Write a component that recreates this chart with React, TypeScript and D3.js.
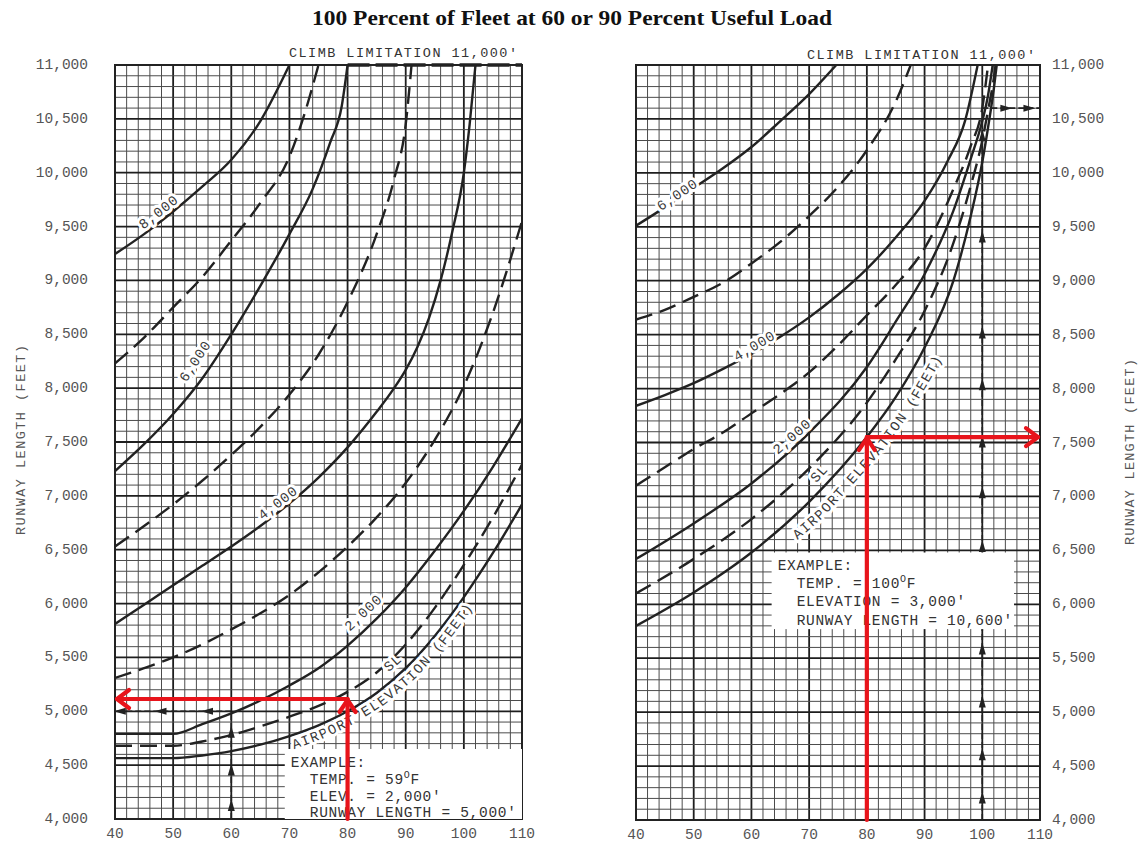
import React from 'react';
import * as d3 from 'd3';

// ---- chart text / ticks ----
const TITLE = '100 Percent of Fleet at 60 or 90 Percent Useful Load';
const AXIS_TITLE = 'RUNWAY LENGTH (FEET)';
const CLIMB = "CLIMB LIMITATION 11,000'";
const ELEV_TEXT = 'AIRPORT ELEVATION (FEET)';
const tempTicks = [40, 50, 60, 70, 80, 90, 100, 110];
const runwayTicks = [4000, 4500, 5000, 5500, 6000, 6500, 7000, 7500, 8000, 8500, 9000, 9500, 10000, 10500, 11000];

type Pt = [number, number];

// ---- left panel (60 percent useful load): [temp F, runway ft] ----
const leftSL: Pt[] = [[40, 4565], [50, 4565], [55, 4590], [60, 4630], [65, 4690], [70, 4770], [75, 4870], [80, 5000], [85, 5170], [90, 5400], [95, 5700], [100, 6060], [105, 6470], [110, 6920]];
const left1000: Pt[] = [[40, 4680], [50, 4680], [55, 4720], [60, 4780], [65, 4860], [70, 4950], [75, 5050], [80, 5180], [85, 5360], [90, 5620], [95, 5960], [100, 6360], [105, 6800], [110, 7290]];
const left2000: Pt[] = [[40, 4790], [50, 4790], [55, 4880], [60, 4980], [65, 5100], [70, 5240], [75, 5400], [80, 5610], [85, 5860], [90, 6150], [95, 6490], [100, 6860], [105, 7270], [110, 7720]];
const left3000: Pt[] = [[40, 5310], [45, 5400], [50, 5500], [55, 5620], [60, 5760], [65, 5910], [70, 6080], [75, 6290], [80, 6530], [85, 6800], [90, 7120], [95, 7520], [100, 8020], [105, 8700], [110, 9550]];
const left4000: Pt[] = [[40, 5810], [45, 5990], [50, 6170], [55, 6350], [60, 6530], [65, 6720], [70, 6930], [75, 7170], [80, 7450], [85, 7780], [88, 8000], [90, 8170], [92, 8380], [94, 8650], [96, 9000], [98, 9450], [100, 10000], [101, 10450], [102, 11000]];
const left5000: Pt[] = [[40, 6530], [45, 6720], [50, 6920], [55, 7140], [60, 7380], [65, 7640], [70, 7940], [75, 8310], [80, 8800], [85, 9430], [88, 9940], [90, 10450], [91, 11000]];
const left6000: Pt[] = [[40, 7230], [45, 7480], [50, 7760], [55, 8090], [60, 8500], [65, 8950], [70, 9430], [74, 9850], [77, 10280], [79, 10620], [80, 11000]];
const left7000: Pt[] = [[40, 8230], [45, 8470], [50, 8750], [55, 9030], [60, 9370], [65, 9720], [70, 10150], [72.5, 10530], [75, 11000]];
const left8000: Pt[] = [[40, 9245], [45, 9430], [50, 9640], [55, 9870], [60, 10120], [65, 10480], [70, 11000]];

// ---- right panel (90 percent useful load) ----
const rightSL: Pt[] = [[40, 5800], [50, 6110], [60, 6480], [70, 6950], [80, 7550], [85, 7920], [90, 8380], [95, 9000], [98, 9600], [100, 10100], [101, 10420], [102, 10780], [102.5, 11000]];
const right1000: Pt[] = [[40, 6100], [50, 6420], [60, 6790], [70, 7260], [80, 7870], [85, 8270], [90, 8720], [95, 9350], [98, 9880], [100, 10300], [101, 10580], [102, 10880], [102.3, 11000]];
const right2000: Pt[] = [[40, 6420], [50, 6750], [60, 7120], [70, 7590], [80, 8200], [85, 8620], [90, 9060], [95, 9650], [98, 10130], [100, 10480], [101, 10720], [101.8, 11000]];
const right3000: Pt[] = [[40, 7100], [45, 7270], [50, 7440], [55, 7590], [60, 7770], [65, 7950], [70, 8150], [75, 8400], [80, 8680], [85, 8960], [90, 9300], [95, 9850], [98, 10250], [100, 10600], [101, 11000]];
const right4000: Pt[] = [[40, 7840], [45, 7940], [50, 8050], [55, 8180], [60, 8320], [65, 8480], [70, 8660], [75, 8870], [80, 9110], [85, 9400], [90, 9740], [94, 10110], [97, 10480], [99.2, 11000]];
const right5000: Pt[] = [[40, 8640], [45, 8730], [50, 8850], [55, 8980], [60, 9160], [65, 9360], [70, 9600], [75, 9870], [80, 10210], [85, 10660], [87.6, 11000]];
const right6000: Pt[] = [[40, 9510], [45, 9680], [50, 9860], [55, 10040], [60, 10240], [65, 10480], [70, 10730], [74.7, 11000]];

// curve labels: [text, temp where it sits, lift above the curve in px]
const leftLabels: [string, number, number][] = [['8,000', 48.4, 8], ['6,000', 56, 15], ['4,000', 68.8, 7], ['2,000', 84.3, 13], ['SL', 89.2, 12]];
const rightLabels: [string, number, number][] = [['6,000', 47.5, 3], ['4,000', 61, 5], ['2,000', 68, 8], ['SL', 73.2, 11]];

// example boxes / arrows
const leftExample = ['EXAMPLE:', 'TEMP. = 59', "ELEV. = 2,000'", "RUNWAY LENGTH = 5,000'"];
const rightExample = ['EXAMPLE:', 'TEMP. = 100', "ELEVATION = 3,000'", "RUNWAY LENGTH = 10,600'"];
const leftBlackArrowsUp = [4120, 4450, 4800];
const leftBlackArrowsLeft = [56, 48, 41];
const rightBlackArrowsUp = [4200, 4600, 5090, 5580, 6530, 7030, 7500, 8030, 8510, 9400, 10340];
const rightBlackArrowsRight = [104, 108];

type Cfg = {
  xr: [number, number];
  yr: [number, number];
  curves: { pts: Pt[]; dashed: boolean }[];
  labels: { lb: [string, number, number]; pts: Pt[] }[];
  elev: { pts: Pt[]; t0: number; t1: number; off: number; spacing: number };
  box: [number, number, number, number];
  boxText: [number, number];
  example: string[];
  red: { t: number; v: number; toT: number };
  black: { t: number; v: number; toT: number; ups: number[]; sides: number[] };
  side: 'left' | 'right';
  climbTop: number;
};

const MONO = "'Liberation Mono', 'DejaVu Sans Mono', monospace";
const INK = '#222';
const RED = '#e8141b';

const halo = { paintOrder: 'stroke', stroke: '#fff', strokeWidth: 6, strokeLinejoin: 'round' } as any;

const Panel = ({ cfg, id }: { cfg: Cfg; id: string }) => {
  const x = d3.scaleLinear().domain([40, 110]).range(cfg.xr);
  const y = d3.scaleLinear().domain([4000, 11000]).range(cfg.yr);
  const line = d3.line<Pt>().x(d => x(d[0])).y(d => y(d[1])).curve(d3.curveMonotoneX);
  const [L, R] = cfg.xr;
  const [B, T] = cfg.yr;

  const minorX = d3.range(40, 111, 2);
  const minorY = d3.range(4000, 11001, 100);

  const interp = (pts: Pt[]) => d3.scaleLinear().domain(pts.map(p => p[0])).range(pts.map(p => p[1])).clamp(true);

  const labelEls = cfg.labels.map(({ lb, pts }, i) => {
    const [text, t, off] = lb;
    const f = interp(pts);
    const ax = x(t - 1), ay = y(f(t - 1)), bx = x(t + 1), by = y(f(t + 1));
    const a = Math.atan2(by - ay, bx - ax);
    const px = x(t) + off * Math.sin(a), py = y(f(t)) - off * Math.cos(a);
    return (
      <text key={i} transform={`translate(${px},${py}) rotate(${(a * 180) / Math.PI})`} textAnchor="middle"
        dominantBaseline="central" fontFamily={MONO} fontSize={14} letterSpacing={0.8} fill="#3a3a3a" style={halo}>{text}</text>
    );
  });

  // path running parallel to (below) the sea-level curve, for the elevation caption
  const ef = interp(cfg.elev.pts);
  const elevPts: [number, number][] = d3.range(cfg.elev.t0, cfg.elev.t1, 0.5).map(t => {
    const a = Math.atan2(y(ef(t + 0.6)) - y(ef(t - 0.6)), x(t + 0.6) - x(t - 0.6));
    return [x(t) - cfg.elev.off * Math.sin(a), y(ef(t)) + cfg.elev.off * Math.cos(a)];
  });
  const elevD = d3.line().curve(d3.curveBasis)(elevPts) || '';

  const [bt0, bt1, bv0, bv1] = cfg.box;
  const bx = x(bt0), bw = x(bt1) - x(bt0), by = y(bv1), bh = y(bv0) - y(bv1);

  const upTri = (cx: number, cy: number, k: string) => (
    <path key={k} d={`M${cx},${cy - 7}L${cx - 3.5},${cy + 5}L${cx + 3.5},${cy + 5}Z`} fill={INK} />
  );
  const sideTri = (cx: number, cy: number, dir: number, k: string) => (
    <path key={k} d={`M${cx + 7 * dir},${cy}L${cx - 5 * dir},${cy - 3.5}L${cx - 5 * dir},${cy + 3.5}Z`} fill={INK} />
  );

  const rx = x(cfg.red.t), ry = y(cfg.red.v), rTo = x(cfg.red.toT);
  const rDir = cfg.red.toT < cfg.red.t ? -1 : 1;
  const bkx = x(cfg.black.t), bky = y(cfg.black.v), bTo = x(cfg.black.toT);
  const bDir = cfg.black.toT < cfg.black.t ? -1 : 1;

  const [firstOff, lineH] = cfg.boxText;

  return (
    <g>
      <defs>
        <clipPath id={id}>
          <rect x={L} y={T} width={R - L} height={B - T} />
        </clipPath>
        <path id={id + '-elev'} d={elevD} />
      </defs>
      <rect x={L} y={T} width={R - L} height={B - T} fill="#fff" />
      {/* grid */}
      {minorX.map(t => (
        <line key={'gx' + t} x1={x(t)} x2={x(t)} y1={T} y2={B}
          stroke={t % 10 === 0 ? '#1e1e1e' : '#4c4c4c'} strokeWidth={t % 10 === 0 ? 1.8 : 1} />
      ))}
      {minorY.map(v => (
        <line key={'gy' + v} x1={L} x2={R} y1={y(v)} y2={y(v)}
          stroke={v % 500 === 0 ? '#1e1e1e' : '#4c4c4c'} strokeWidth={v % 500 === 0 ? 1.8 : 1} />
      ))}
      <rect x={L} y={T} width={R - L} height={B - T} fill="none" stroke={INK} strokeWidth={2} />
      {cfg.side === 'left' && (
        <line x1={x(80)} x2={R} y1={T} y2={T} stroke={INK} strokeWidth={3.5} strokeDasharray="22,6" />
      )}

      {/* curves */}
      <g clipPath={`url(#${id})`}>
        {cfg.curves.map((c, i) => (
          <path key={i} d={line(c.pts) || ''} fill="none" stroke={INK} strokeWidth={2.4}
            strokeDasharray={c.dashed ? '17,8' : undefined} />
        ))}
      </g>

      {/* black worked example */}
      <line x1={bkx} x2={bkx} y1={B} y2={bky} stroke={INK} strokeWidth={1.6} strokeDasharray="6,3" />
      <line x1={bkx} x2={bTo} y1={bky} y2={bky} stroke={INK} strokeWidth={1.6} strokeDasharray="6,3" />
      {cfg.black.ups.map((v, i) => upTri(bkx, y(v), 'u' + i))}
      {cfg.black.sides.map((t, i) => sideTri(x(t), bky, bDir, 's' + i))}

      {/* example box */}
      <rect x={bx} y={by} width={bw} height={bh} fill="#fff" />
      {cfg.example.map((s, i) => (
        <text key={'ex' + i} x={bx + (i === 0 ? 6 : 25)} y={by + firstOff + i * lineH} fontFamily={MONO} fontSize={14.5}
          letterSpacing={0.7} fill="#333">
          {s}
          {i === 1 && (
            <>
              <tspan fontSize={10} dy={-6}>O</tspan>
              <tspan dy={6}>F</tspan>
            </>
          )}
        </text>
      ))}

      {/* elevation caption, then curve labels on top */}
      <text fontFamily={MONO} fontSize={14} fill="#3a3a3a" letterSpacing={cfg.elev.spacing} dominantBaseline="central" style={halo}>
        <textPath href={`#${id}-elev`}>{ELEV_TEXT}</textPath>
      </text>
      {labelEls}

      {/* red worked example */}
      <g stroke={RED} strokeWidth={4.2} fill="none" strokeLinecap="round" strokeLinejoin="round">
        <line x1={rx} x2={rx} y1={B} y2={ry} />
        <line x1={rx} x2={rTo - 2 * rDir} y1={ry} y2={ry} />
        <polyline points={`${rx - 8},${ry + 13} ${rx},${ry + 1} ${rx + 8},${ry + 13}`} />
        <polyline points={`${rTo - 14 * rDir},${ry - 9} ${rTo - 2 * rDir},${ry} ${rTo - 14 * rDir},${ry + 9}`} />
      </g>

      {/* axes text */}
      {tempTicks.map(t => (
        <text key={'xt' + t} x={x(t)} y={B + 19} textAnchor="middle" fontFamily={MONO} fontSize={14.5} fill="#555">{t}</text>
      ))}
      {runwayTicks.map(v => (
        <text key={'yt' + v} x={cfg.side === 'left' ? L - 27 : R + 12} y={y(v)} dominantBaseline="central"
          textAnchor={cfg.side === 'left' ? 'end' : 'start'} fontFamily={MONO} fontSize={14.5} fill="#555">
          {d3.format(',')(v)}
        </text>
      ))}
      <text x={R - 5} y={cfg.climbTop} textAnchor="end" fontFamily={MONO} fontSize={13.5} fill="#333"
        textLength={228} lengthAdjust="spacing">{CLIMB}</text>
    </g>
  );
};

const leftCfg: Cfg = {
  xr: [115, 522],
  yr: [819, 65],
  curves: [
    { pts: leftSL, dashed: false }, { pts: left1000, dashed: true }, { pts: left2000, dashed: false },
    { pts: left3000, dashed: true }, { pts: left4000, dashed: false }, { pts: left5000, dashed: true },
    { pts: left6000, dashed: false }, { pts: left7000, dashed: true }, { pts: left8000, dashed: false },
  ],
  labels: [
    { lb: leftLabels[0], pts: left8000 },
    { lb: leftLabels[1], pts: left6000 },
    { lb: leftLabels[2], pts: left4000 },
    { lb: leftLabels[3], pts: left2000 },
    { lb: leftLabels[4], pts: leftSL },
  ],
  elev: { pts: leftSL, t0: 70, t1: 110, off: 10, spacing: 1.25 },
  box: [69.2, 110, 4000, 4650],
  boxText: [18, 16.8],
  example: leftExample,
  red: { t: 80, v: 5114, toT: 40 },
  black: { t: 60, v: 5000, toT: 40, ups: leftBlackArrowsUp, sides: leftBlackArrowsLeft },
  side: 'left',
  climbTop: 57,
};

const rightCfg: Cfg = {
  xr: [636, 1040],
  yr: [820, 65],
  curves: [
    { pts: rightSL, dashed: false }, { pts: right1000, dashed: true }, { pts: right2000, dashed: false },
    { pts: right3000, dashed: true }, { pts: right4000, dashed: false }, { pts: right5000, dashed: true },
    { pts: right6000, dashed: false },
  ],
  labels: [
    { lb: rightLabels[0], pts: right6000 },
    { lb: rightLabels[1], pts: right4000 },
    { lb: rightLabels[2], pts: right2000 },
    { lb: rightLabels[3], pts: rightSL },
  ],
  elev: { pts: rightSL, t0: 65.6, t1: 102, off: 17, spacing: 1.3 },
  box: [63.5, 105.5, 5770, 6480],
  boxText: [17, 18.4],
  example: rightExample,
  red: { t: 80, v: 7550, toT: 110 },
  black: { t: 100, v: 10600, toT: 110, ups: rightBlackArrowsUp, sides: rightBlackArrowsRight },
  side: 'right',
  climbTop: 59,
};

export default function App() {
  return (
    <svg width={1144} height={844} style={{ position: 'absolute', left: 0, top: 0, background: '#fff' }}>
      <rect width={1144} height={844} fill="#fff" />
      <text x={572} y={25} textAnchor="middle" fontFamily="'Liberation Serif', 'Times New Roman', serif"
        fontWeight="bold" fontSize={21} fill="#111" textLength={520} lengthAdjust="spacingAndGlyphs">{TITLE}</text>
      <Panel cfg={leftCfg} id="clipL" />
      <Panel cfg={rightCfg} id="clipR" />
      <text transform="translate(21,440) rotate(-90)" textAnchor="middle" dominantBaseline="central"
        fontFamily={MONO} fontSize={13.5} fill="#555" textLength={190} lengthAdjust="spacing">{AXIS_TITLE}</text>
      <text transform="translate(1130,452) rotate(-90)" textAnchor="middle" dominantBaseline="central"
        fontFamily={MONO} fontSize={13.5} fill="#555" textLength={186} lengthAdjust="spacing">{AXIS_TITLE}</text>
    </svg>
  );
}
